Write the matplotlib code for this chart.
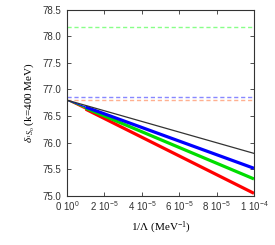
import matplotlib
matplotlib.use("Agg")
import matplotlib.pyplot as plt
import numpy as np

plt.rcParams['font.family'] = ['Liberation Serif', 'DejaVu Serif']
plt.rcParams['mathtext.fontset'] = 'custom'
plt.rcParams['mathtext.rm'] = 'Liberation Serif'
plt.rcParams['mathtext.it'] = 'Liberation Serif:italic'
plt.rcParams['mathtext.sf'] = 'Liberation Sans'

# data
x_pts = [0.0, 1e-5, 1e-4]
black_y = [76.80, 76.70, 75.80]
blue_y = [76.80, 76.67, 75.52]
green_y = [76.80, 76.65, 75.32]
red_y = [76.80, 76.63, 75.05]
dash_green = 78.18
dash_blue = 76.855
dash_salmon = 76.805
xticks = [0, 2e-5, 4e-5, 6e-5, 8e-5, 1e-4]
xticklabels = [r'0 10$^{\mathsf{0}}$', r'2 10$^{\mathsf{-5}}$', r'4 10$^{\mathsf{-5}}$',
               r'6 10$^{\mathsf{-5}}$', r'8 10$^{\mathsf{-5}}$', r'1 10$^{\mathsf{-4}}$']
yticks = [75.0, 75.5, 76.0, 76.5, 77.0, 77.5, 78.0, 78.5]

fig = plt.figure(figsize=(2.75, 2.45), dpi=100)
ax = fig.add_axes([0.2436, 0.2, 0.68, 0.761])

ax.axhline(dash_green, color='#88ff88', lw=1.0, ls=(0, (3, 2)))
ax.axhline(dash_blue, color='#8888ff', lw=1.0, ls=(0, (3, 2)))
ax.axhline(dash_salmon, color='#ffb090', lw=1.0, ls=(0, (3, 2)))

for ys, c in [(red_y, '#ff0000'), (green_y, '#00dd00'), (blue_y, '#0000ff')]:
    ax.plot(x_pts[:2], ys[:2], color=c, lw=0.8)
    ax.plot(x_pts[1:], ys[1:], color=c, lw=2.3, solid_capstyle='butt')
ax.plot(x_pts, black_y, color='#333333', lw=0.9)

ax.set_xlim(0, 1e-4)
ax.set_ylim(75.0, 78.5)
ax.set_xticks(xticks)
ax.set_xticklabels(xticklabels)
ax.set_yticks(yticks)
ax.set_yticklabels([f'{v:.1f}' for v in yticks])
ax.tick_params(direction='in', top=True, right=True, length=3, width=0.6, colors='#333333')
ax.tick_params(axis='y', pad=4)
ax.tick_params(axis='x', pad=3)
for lab in ax.get_xticklabels() + ax.get_yticklabels():
    lab.set_family('Liberation Sans')
    lab.set_fontsize(7)
    lab.set_color('#333333')
for s in ax.spines.values():
    s.set_color('#333333')
    s.set_linewidth(0.8)

ax.set_xlabel(r'1/$\Lambda$ (MeV$^{-1}$)', fontsize=8, labelpad=5)
ax.set_ylabel(r'$\delta_{{}^{1}S_{0}}$ (k=400 MeV)', fontsize=8, labelpad=4)

fig.savefig('out.png', dpi=100)
